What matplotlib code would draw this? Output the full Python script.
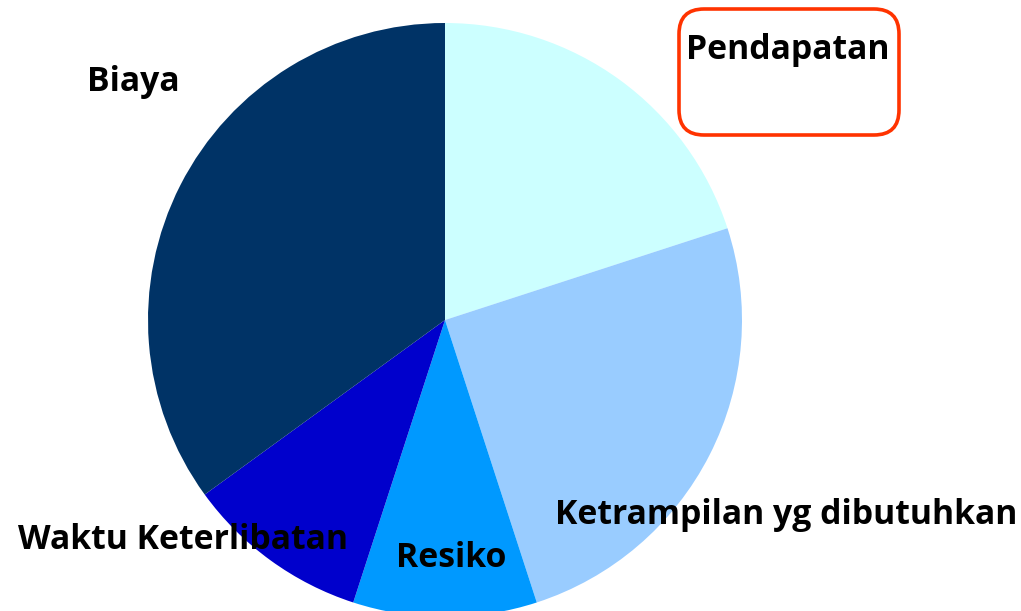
import matplotlib
matplotlib.use("Agg")
import matplotlib.pyplot as plt
from matplotlib.patches import FancyBboxPatch

labels = ["Pendapatan", "Ketrampilan yg dibutuhkan", "Resiko", "Waktu Keterlibatan", "Biaya"]
values = [20, 25, 10, 10, 35]
colors = ["#CCFFFF", "#99CCFF", "#0099FF", "#0000CC", "#003366"]

W, H = 1021, 611
fig = plt.figure(figsize=(W / 100, H / 100), dpi=100)
ax = fig.add_axes([0, 0, 1, 1])
ax.set_xlim(0, W)
ax.set_ylim(0, H)
ax.set_aspect("equal")
ax.axis("off")

cx, cy, r = 445, H - 320, 297
ax.pie(values, colors=colors, startangle=90, counterclock=False,
       center=(cx, cy), radius=r, frame=True,
       wedgeprops=dict(linewidth=0, edgecolor="none"))
ax.set_xlim(0, W)
ax.set_ylim(0, H)
ax.axis("off")

font = dict(family=["Open Sans", "DejaVu Sans"], fontweight="bold", fontsize=24.3, color="black")

box = FancyBboxPatch((679, H - 135), 220, 126,
                     boxstyle="round,pad=0,rounding_size=25",
                     facecolor="white", edgecolor="#FF3300", linewidth=2.6, zorder=3)
ax.add_patch(box)

positions = {
    "Pendapatan": (788, H - 50),
    "Ketrampilan yg dibutuhkan": (786, H - 515),
    "Resiko": (451, H - 558),
    "Waktu Keterlibatan": (183, H - 540),
    "Biaya": (133, H - 82),
}
for lab in labels:
    x, y = positions[lab]
    ax.text(x, y, lab, ha="center", va="center", zorder=4, **font)

fig.savefig("out.png", dpi=100)
